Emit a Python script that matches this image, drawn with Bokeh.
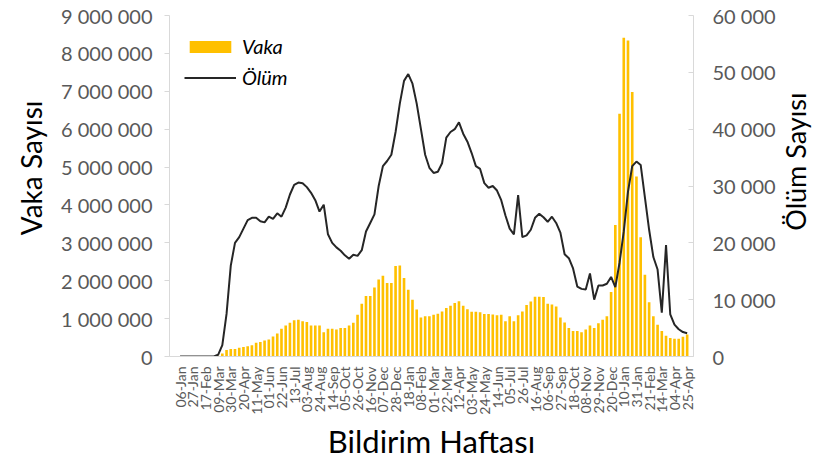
import math
from bokeh.plotting import figure
from bokeh.layouts import row
from bokeh.models import (Range1d, LinearAxis, FixedTicker, Legend, LegendItem,
                          ColumnDataSource, Title)
from bokeh.core.properties import value
from bokeh.embed import file_html
from bokeh.resources import INLINE

# ---- data (weekly, 06-Jan-2020 .. 25-Apr-2022) ----
tick_labels = ["06-Jan", "27-Jan", "17-Feb", "09-Mar", "30-Mar", "20-Apr", "11-May",
               "01-Jun", "22-Jun", "13-Jul", "03-Aug", "24-Aug", "14-Sep", "05-Oct",
               "26-Oct", "16-Nov", "07-Dec", "28-Dec", "18-Jan", "08-Feb", "01-Mar",
               "22-Mar", "12-Apr", "03-May", "24-May", "14-Jun", "05-Jul", "26-Jul",
               "16-Aug", "06-Sep", "27-Sep", "18-Oct", "08-Nov", "29-Nov", "20-Dec",
               "10-Jan", "31-Jan", "21-Feb", "14-Mar", "04-Apr", "25-Apr"]

# weekly cases, millions
cases_m = [0, 0, 0, 0, 0, 0, 0, 0, 0, 0.02,
           0.08, 0.17, 0.20, 0.20, 0.23, 0.25, 0.27, 0.30, 0.36, 0.38,
           0.42, 0.45, 0.53, 0.61, 0.73, 0.82, 0.89, 0.96, 0.97, 0.93,
           0.91, 0.82, 0.82, 0.82, 0.64, 0.73, 0.73, 0.71, 0.75, 0.75,
           0.82, 0.89, 1.10, 1.39, 1.60, 1.60, 1.82, 2.03, 2.13, 1.94,
           1.94, 2.39, 2.40, 2.07, 1.76, 1.50, 1.24, 1.03, 1.06, 1.06,
           1.10, 1.13, 1.19, 1.28, 1.34, 1.41, 1.46, 1.34, 1.25, 1.18,
           1.18, 1.17, 1.12, 1.12, 1.11, 1.09, 1.10, 0.93, 1.06, 0.93,
           1.09, 1.19, 1.36, 1.45, 1.58, 1.58, 1.57, 1.39, 1.37, 1.32,
           1.03, 0.90, 0.75, 0.67, 0.67, 0.64, 0.71, 0.82, 0.75, 0.88,
           0.97, 1.06, 1.70, 3.47, 6.41, 8.41, 8.34, 6.98, 4.75, 3.15,
           2.16, 1.43, 1.06, 0.84, 0.67, 0.55, 0.49, 0.47, 0.47, 0.52,
           0.58]

# weekly deaths, thousands
deaths_k = [0, 0, 0, 0, 0, 0, 0, 0, 0, 0.3,
            2.0, 7.5, 16.0, 20.0, 21.0, 22.5, 24.0, 24.4, 24.4, 23.8,
            23.6, 24.6, 24.2, 25.2, 24.6, 26.2, 28.5, 30.2, 30.6, 30.5,
            29.8, 28.8, 27.5, 25.5, 26.7, 21.5, 20.0, 19.2, 18.6, 17.8,
            17.2, 17.9, 17.7, 18.7, 22.0, 23.5, 25.0, 30.0, 33.5, 34.4,
            35.5, 39.5, 44.5, 48.5, 49.7, 48.0, 44.5, 40.0, 35.5, 33.2,
            32.3, 32.5, 34.0, 38.5, 39.5, 40.0, 41.2, 39.2, 37.8, 35.8,
            33.5, 33.0, 30.5, 29.7, 30.0, 29.2, 27.5, 24.8, 22.5, 21.5,
            28.4, 21.0, 21.3, 22.3, 24.4, 25.1, 24.5, 23.7, 24.6, 23.5,
            21.8, 18.0, 17.3, 15.5, 12.3, 11.9, 11.8, 14.6, 10.0, 12.5,
            12.5, 12.8, 14.0, 12.2, 16.5, 22.0, 29.0, 33.5, 34.3, 33.7,
            28.0, 22.3, 17.5, 15.3, 7.7, 19.6, 7.4, 5.6, 4.8, 4.3,
            4.1]

left_ticks = [0, 1000000, 2000000, 3000000, 4000000, 5000000,
              6000000, 7000000, 8000000, 9000000]
right_ticks = [0, 10000, 20000, 30000, 40000, 50000, 60000]


def fmt(n):
    return f"{n:,}".replace(",", " ")


weeks = list(range(len(cases_m)))
src = ColumnDataSource(dict(
    week=weeks,
    cases=[v * 1_000_000 for v in cases_m],
    deaths=[v * 1000 for v in deaths_k],
))

FONT = "Lato"
TICK_COLOR = "#595959"
AXIS_COLOR = "#d9d9d9"

W, H = 778, 462          # main figure
TW = 34                  # narrow strip holding the right-hand axis title
FL, FR, FT, FB = 165, 695, 15, 357   # frame edges in canvas px

p = figure(width=W, height=H, output_backend="svg", toolbar_location=None,
           x_range=Range1d(-2.5, 121.5), y_range=Range1d(0, 9_000_000),
           min_border_left=FL, min_border_right=W - FR, min_border_top=FT,
           min_border_bottom=H - FB)
p.extra_y_ranges = {"deaths": Range1d(0, 60000)}
p.outline_line_color = None
p.xgrid.visible = False
p.ygrid.visible = False
p.background_fill_color = "white"

bars = p.vbar(x="week", top="cases", width=0.62, source=src,
              fill_color="#FFC000", line_color=None)
line = p.line(x="week", y="deaths", source=src, y_range_name="deaths",
              line_color="#262626", line_width=2)

# left axis
ya = p.yaxis[0]
ya.ticker = FixedTicker(ticks=left_ticks)
ya.major_label_overrides = {t: fmt(t) for t in left_ticks}
ya.minor_tick_line_color = None
ya.axis_line_color = AXIS_COLOR
ya.major_tick_line_color = AXIS_COLOR
ya.major_tick_out = 5
ya.major_tick_in = 0
ya.major_label_text_font = FONT
ya.major_label_text_font_size = "20px"
ya.major_label_text_color = TICK_COLOR
ya.major_label_standoff = 12

left_title = Title(text="Vaka Sayısı", align="right", offset=85,
                   text_font=FONT, text_font_size="28px",
                   text_font_style="normal", text_color="#000000", standoff=22)
p.add_layout(left_title, "left")

# right axis
ra = LinearAxis(y_range_name="deaths")
ra.ticker = FixedTicker(ticks=right_ticks)
ra.major_label_overrides = {t: fmt(t) for t in right_ticks}
ra.minor_tick_line_color = None
ra.axis_line_color = AXIS_COLOR
ra.major_tick_line_color = AXIS_COLOR
ra.major_tick_out = 0
ra.major_tick_in = 5
ra.major_label_text_font = FONT
ra.major_label_text_font_size = "20px"
ra.major_label_text_color = TICK_COLOR
ra.major_label_standoff = 19
p.add_layout(ra, "right")

# bottom axis
xa = p.xaxis[0]
x_ticks = list(range(0, len(weeks), 3))
xa.ticker = FixedTicker(ticks=x_ticks)
xa.major_label_overrides = {t: lab for t, lab in zip(x_ticks, tick_labels)}
xa.minor_tick_line_color = None
xa.major_tick_line_color = None
xa.axis_line_color = AXIS_COLOR
xa.major_label_orientation = math.pi / 2
xa.major_label_text_font = FONT
xa.major_label_text_font_size = "14px"
xa.major_label_text_color = TICK_COLOR
xa.major_label_standoff = 4
xa.axis_label = "Bildirim Haftası"
xa.axis_label_text_font = FONT
xa.axis_label_text_font_size = "31px"
xa.axis_label_text_font_style = "normal"
xa.axis_label_text_color = "#000000"
xa.axis_label_standoff = 4

legend = Legend(items=[LegendItem(label="Vaka", renderers=[bars]),
                       LegendItem(label="Ölüm", renderers=[line])],
                location=(15, 267))
legend.label_text_font = FONT
legend.label_text_font_style = "italic"
legend.label_text_font_size = "20px"
legend.label_text_color = "#000000"
legend.glyph_width = 52
legend.glyph_height = 15
legend.label_height = 15
legend.label_standoff = 6
legend.spacing = 7
legend.padding = 0
legend.margin = 0
legend.border_line_color = None
legend.background_fill_alpha = 0
p.add_layout(legend, "center")

# right-hand axis title: a narrow strip beside the chart, text reading bottom-to-top
pt = figure(width=TW, height=H, output_backend="svg", toolbar_location=None,
            x_range=Range1d(0, TW), y_range=Range1d(0, H),
            x_axis_location=None, y_axis_location=None, title=None,
            min_border=0, min_border_left=0, min_border_right=0,
            min_border_top=0, min_border_bottom=0)
pt.outline_line_color = None
pt.xgrid.visible = False
pt.ygrid.visible = False
pt.text(x=[17], y=[264], text=["Ölüm Sayısı"], angle=math.pi / 2,
        text_align="center", text_baseline="middle",
        text_font=value(FONT), text_font_size="27px", text_color="#000000")

layout = row(p, pt, spacing=0)
open("out.html", "w").write(file_html(layout, INLINE))
